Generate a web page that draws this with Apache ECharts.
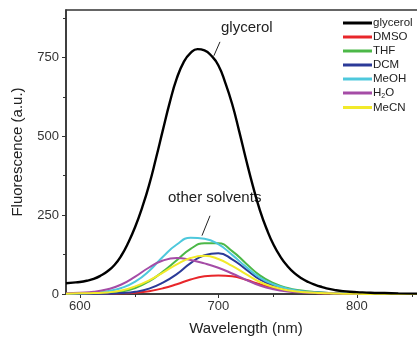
<!DOCTYPE html>
<html>
<head>
<meta charset="utf-8">
<script src="https://cdn.jsdelivr.net/npm/echarts@6/dist/echarts.min.js"></script>
<style>
  html, body { margin: 0; padding: 0; background: #fff; }
  #chart { width: 417px; height: 338px; }
</style>
</head>
<body>
<div id="chart"></div>
<script>
// glycerol sampled every 5 nm
const wlFine = [590, 595, 600, 605, 610, 615, 620, 625, 630, 635, 640, 645, 650, 655, 660, 665, 670, 675, 680, 685,
  690, 695, 700, 705, 710, 715, 720, 725, 730, 735, 740, 745, 750, 755, 760, 765, 770, 775, 780, 785,
  790, 795, 800, 810, 820, 830, 845];
const glycerol = [34, 36, 38, 42, 48, 58, 72, 92, 122, 163, 213, 274, 345, 430, 520, 608, 683, 735, 764, 776,
  772, 755, 725, 670, 602, 517, 427, 342, 266, 205, 155, 117, 88, 66, 50, 38, 29, 22, 16, 12,
  9, 7, 6, 4, 3, 2, 1];

// other solvents sampled every 10 nm
const wl = [590, 600, 610, 620, 630, 640, 650, 660, 670, 680, 690, 700, 710, 720, 730, 740, 750, 760, 770, 780,
  790, 800, 810, 820, 830, 845];
const dmso = [0, 0, 0.5, 1, 2, 4, 9, 18, 31, 46, 56, 59, 56, 45, 31, 19, 11, 6, 3, 2, 1, 0.5, 0.3, 0.2, 0.1, 0];
const thf  = [0, 0.5, 1, 3, 8, 19, 40, 71, 107, 143, 161, 161, 136, 97, 59, 34, 19, 11, 6, 3, 2, 1, 0.5, 0.3, 0.2, 0];
const dcm  = [0, 0, 0.5, 1, 3, 7, 17, 36, 63, 98, 123, 129, 110, 78, 46, 26, 15, 8, 5, 3, 2, 1, 0.5, 0.3, 0.2, 0];
const meoh = [1, 2, 4, 9, 19, 39, 73, 118, 157, 178, 175, 158, 124, 86, 52, 30, 17, 9, 5, 3, 2, 1, 0.5, 0.3, 0.2, 0];
const h2o  = [2, 4, 7, 15, 30, 55, 84, 106, 114, 108, 97, 83, 65, 45, 27, 15, 8, 5, 3, 2, 1, 0.5, 0.3, 0.2, 0.1, 0];
const mecn = [1, 2, 3, 5, 11, 24, 43, 68, 94, 114, 121, 111, 89, 63, 38, 22, 12, 6, 4, 2, 1, 0.5, 0.3, 0.2, 0.1, 0];

const names = ['glycerol', 'DMSO', 'THF', 'DCM', 'MeOH', 'H2O', 'MeCN'];
const colors = ['#000000', '#e8262a', '#4cb848', '#2b3a98', '#4ec8dc', '#a54ca6', '#f2ea2a'];
const values = [glycerol, dmso, thf, dcm, meoh, h2o, mecn];
const yTicks = [0, 250, 500, 750];

const font = 'Liberation Sans, Arial, sans-serif';
const chart = echarts.init(document.getElementById('chart'));

const series = names.map(function (name, i) {
  const xs = i === 0 ? wlFine : wl;
  return {
    name: name,
    type: 'line',
    smooth: true,
    showSymbol: false,
    z: i === 0 ? 3 : 2,
    data: values[i].map(function (v, j) { return [xs[j], v]; }),
    lineStyle: { color: colors[i], width: i === 0 ? 2.4 : 2 },
    itemStyle: { color: colors[i] }
  };
});

// annotation arrows
series[0].markLine = {
  silent: true,
  symbol: ['none', 'arrow'],
  symbolSize: [0, 6],
  label: { show: false },
  lineStyle: { color: '#222', width: 1, type: 'solid' },
  data: [
    [{ coord: [696.8, 755] }, { coord: [701.2, 799] }],
    [{ coord: [688.2, 185] }, { coord: [694, 248] }]
  ]
};

chart.setOption({
  animation: false,
  color: colors,
  grid: {
    left: 66, top: 10, right: -9, bottom: 44,
    outerBoundsMode: 'none',
    show: true, borderColor: '#333', borderWidth: 1.5
  },
  legend: {
    orient: 'vertical',
    left: 343, top: 17, padding: 0,
    itemWidth: 29, itemHeight: 3, itemGap: 2,
    icon: 'rect',
    data: names,
    formatter: function (n) { return n === 'H2O' ? 'H{sub|2}O' : n; },
    textStyle: {
      fontFamily: font, fontSize: 11.5, color: '#222', padding: [0, 0, 0, -4],
      rich: { sub: { fontSize: 7, verticalAlign: 'bottom', padding: [6, 0, 0, 0], fontFamily: font, color: '#222' } }
    }
  },
  xAxis: {
    type: 'value',
    min: 590, max: 850, interval: 100,
    name: 'Wavelength (nm)',
    nameLocation: 'middle', nameGap: 27,
    nameTextStyle: { fontFamily: font, fontSize: 15, color: '#222' },
    axisLine: { show: true, onZero: false, lineStyle: { color: '#333', width: 1.5 } },
    axisTick: { show: true, length: 4, lineStyle: { color: '#333' }, customValues: [600, 700, 800] },
    minorTick: { show: true, splitNumber: 2, length: 3, lineStyle: { color: '#333' } },
    axisLabel: { fontFamily: font, fontSize: 13, color: '#333', margin: 6, customValues: [600, 700, 800] },
    splitLine: { show: false }
  },
  yAxis: {
    type: 'value',
    min: 0, max: 900, interval: 250,
    name: 'Fluorescence (a.u.)',
    nameLocation: 'middle', nameGap: 41,
    nameTextStyle: { fontFamily: font, fontSize: 15, color: '#222' },
    axisLine: { show: true, lineStyle: { color: '#333', width: 1.5 } },
    axisTick: { show: true, length: 4, lineStyle: { color: '#333' }, customValues: yTicks },
    minorTick: { show: true, splitNumber: 2, length: 3, lineStyle: { color: '#333' } },
    axisLabel: { fontFamily: font, fontSize: 13, color: '#333', margin: 7, customValues: yTicks },
    splitLine: { show: false }
  },
  graphic: [
    { type: 'text', left: 221, top: 20, style: { text: 'glycerol', font: '15px ' + font, fill: '#222' } },
    { type: 'text', left: 168, top: 190, style: { text: 'other solvents', font: '15px ' + font, fill: '#222' } }
  ],
  series: series
});
</script>
</body>
</html>
